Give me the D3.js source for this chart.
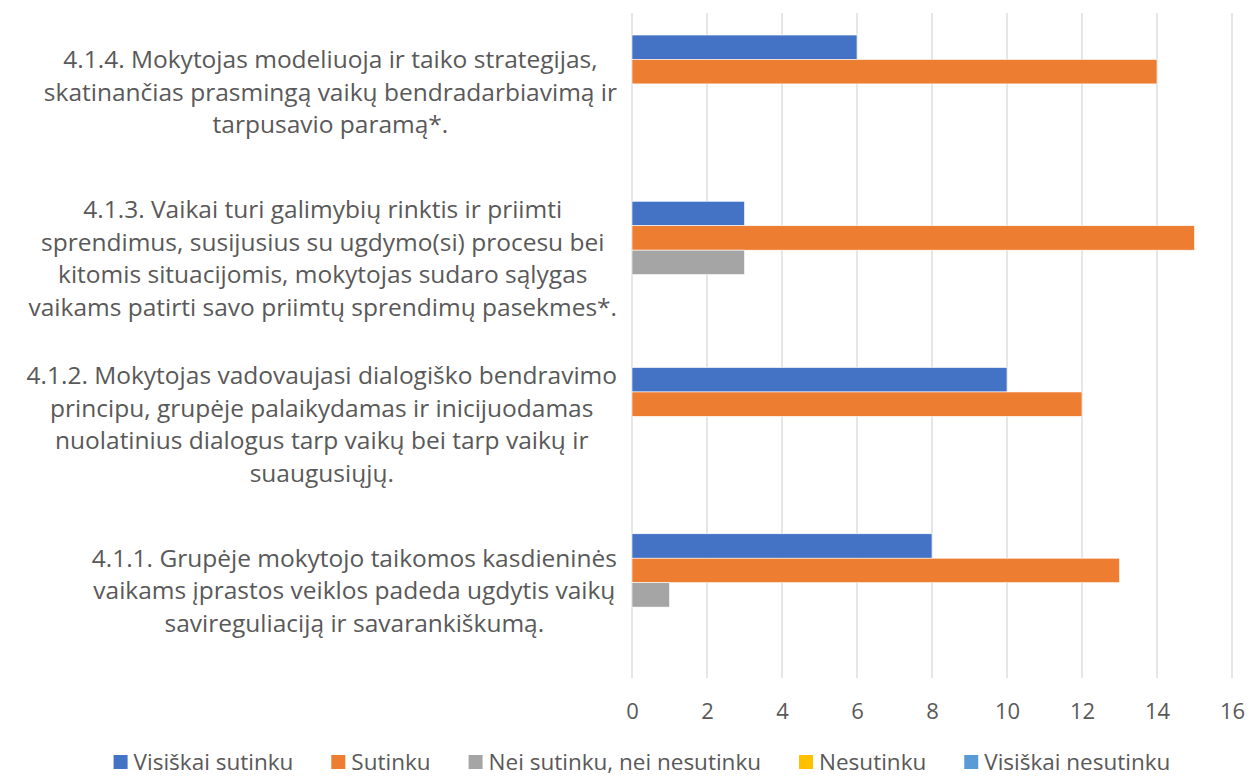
<!DOCTYPE html>
<html>
<head>
<meta charset="utf-8">
<script src="https://cdn.jsdelivr.net/npm/d3@7"></script>
<style>
  body { margin: 0; background: #fff; }
  svg text { font-family: "Open Sans", "Noto Sans", sans-serif; fill: #595959; }
</style>
</head>
<body>
<div class="barChart"></div>
<script>
// categories, top to bottom as drawn; each label split into its lines
var categories = ["4.1.4", "4.1.3", "4.1.2", "4.1.1"];
var categoryLines = [
  ["4.1.4. Mokytojas modeliuoja ir taiko strategijas,",
   "skatinančias prasmingą vaikų bendradarbiavimą ir",
   "tarpusavio paramą*."],
  ["4.1.3. Vaikai turi galimybių rinktis ir priimti",
   "sprendimus, susijusius su ugdymo(si) procesu bei",
   "kitomis situacijomis, mokytojas sudaro sąlygas",
   "vaikams patirti savo priimtų sprendimų pasekmes*."],
  ["4.1.2. Mokytojas vadovaujasi dialogiško bendravimo",
   "principu, grupėje palaikydamas ir inicijuodamas",
   "nuolatinius dialogus tarp vaikų bei tarp vaikų ir",
   "suaugusiųjų."],
  ["4.1.1. Grupėje mokytojo taikomos kasdieninės",
   "vaikams įprastos veiklos padeda ugdytis vaikų",
   "savireguliaciją ir savarankiškumą."]
];

var seriesNames = ["Visiškai sutinku", "Sutinku", "Nei sutinku, nei nesutinku", "Nesutinku", "Visiškai nesutinku"];
var seriesColors = ["#4472C4", "#ED7D31", "#A5A5A5", "#FFC000", "#5B9BD5"];

// values per series, in the same order as categories
var visiskaiSutinku = [6, 3, 10, 8];
var sutinku = [14, 15, 12, 13];
var neiSutinku = [0, 3, 0, 1];
var nesutinku = [0, 0, 0, 0];
var visiskaiNesutinku = [0, 0, 0, 0];
var seriesValues = [visiskaiSutinku, sutinku, neiSutinku, nesutinku, visiskaiNesutinku];

var xTicks = [0, 2, 4, 6, 8, 10, 12, 14, 16];

var width = 1250, height = 777;
var margin = {top: 13, right: 18, bottom: 99, left: 632};
var plotW = width - margin.left - margin.right,
    plotH = height - margin.top - margin.bottom;

var svg = d3.select(".barChart").append("svg")
    .attr("width", width)
    .attr("height", height);

var g = svg.append("g")
    .attr("transform", "translate(" + margin.left + "," + margin.top + ")");

var x = d3.scaleLinear().domain([0, 16]).range([0, plotW]);

var y0 = d3.scaleBand()
    .domain(categories)
    .range([0, plotH])
    .paddingInner(0.265)
    .paddingOuter(0.1325);

var y1 = d3.scaleBand()
    .domain(seriesNames)
    .range([0, y0.bandwidth()]);

// vertical gridlines
g.append("g")
    .selectAll("line")
    .data(xTicks)
    .enter().append("line")
    .attr("x1", function(d) { return x(d); })
    .attr("x2", function(d) { return x(d); })
    .attr("y1", 0)
    .attr("y2", plotH)
    .attr("stroke", "#D9D9D9")
    .attr("stroke-width", 1.3);

// x axis labels
var xAxis = g.append("g")
    .attr("transform", "translate(0," + plotH + ")")
    .call(d3.axisBottom(x).tickValues(xTicks).tickSize(0).tickPadding(25));
xAxis.select(".domain").remove();
xAxis.selectAll("text")
    .style("font-size", "22px")
    .attr("fill", "#595959");

// bars
var groups = g.selectAll(".cat")
    .data(categories)
    .enter().append("g")
    .attr("class", "cat")
    .attr("transform", function(d) { return "translate(0," + y0(d) + ")"; });

groups.selectAll("rect")
    .data(function(d, i) {
        return seriesNames.map(function(s, j) { return {series: s, value: seriesValues[j][i], color: seriesColors[j]}; });
    })
    .enter().append("rect")
    .filter(function(d) { return d.value > 0; })
    .attr("x", x(0))
    .attr("y", function(d) { return y1(d.series); })
    .attr("width", function(d) { return x(d.value) - x(0); })
    .attr("height", y1.bandwidth())
    .attr("fill", function(d) { return d.color; })
    .attr("stroke", "#fff")
    .attr("stroke-width", 0.6);

// category labels, centered on their widest line, right edge near the axis
var labelRight = 617, lineH = 32.5, labelSize = 24.5;
categories.forEach(function(c, i) {
    var lines = categoryLines[i];
    var t = svg.append("text")
        .style("font-size", labelSize + "px")
        .attr("text-anchor", "middle");
    var cy = margin.top + y0(c) + y0.bandwidth() / 2 - 4;
    var startY = cy - (lines.length - 1) * lineH / 2;
    lines.forEach(function(l, k) {
        t.append("tspan").attr("y", startY + k * lineH).attr("dy", "0.35em").text(l);
    });
    var maxW = 0;
    t.selectAll("tspan").each(function() { maxW = Math.max(maxW, this.getComputedTextLength()); });
    t.selectAll("tspan").attr("x", labelRight - maxW / 2);
});

// legend
var legend = svg.append("g");
var lx = 0;
seriesNames.forEach(function(s, j) {
    var it = legend.append("g").attr("transform", "translate(" + lx + ",0)");
    it.append("rect").attr("x", 0).attr("y", -7).attr("width", 14).attr("height", 14).attr("fill", seriesColors[j]);
    var tx = it.append("text").attr("x", 20).attr("y", 0).attr("dy", "0.35em")
        .style("font-size", "22.5px").text(s);
    lx += 20 + tx.node().getComputedTextLength() + 38;
});
var legendW = lx - 38;
legend.attr("transform", "translate(" + (642 - legendW / 2) + ",762)");
</script>
</body>
</html>
